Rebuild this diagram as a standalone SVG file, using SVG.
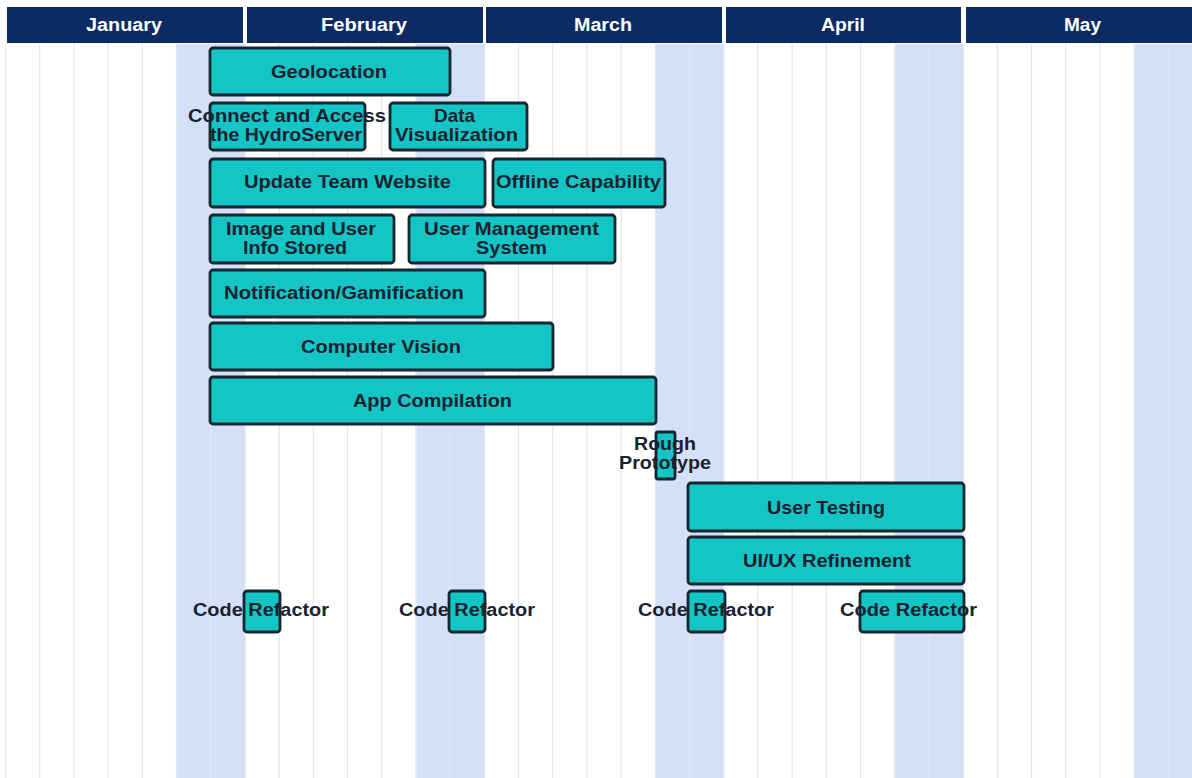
<svg xmlns="http://www.w3.org/2000/svg" width="1192" height="778" viewBox="0 0 1192 778">
  <style>
    .hdr { fill: #0c2b62; }
    .hdr-t { fill: #ffffff; font-family: "Liberation Sans", Arial, sans-serif; font-weight: bold; font-size: 17.5px; }
    .wkend { fill: #d3e0f8; }
    .grid { stroke: #e3e6ec; stroke-width: 1.2; }
    .bar { fill: #14c5c5; stroke: #16262e; stroke-width: 2.8; }
    .lbl { fill: #1a2230; font-family: "Liberation Sans", Arial, sans-serif; font-weight: bold; font-size: 18px; }
  </style>

  <rect x="0" y="0" width="1192" height="778" fill="#ffffff"/>

  <!-- shaded week-end columns -->
  <g id="weekends">
    <rect class="wkend" x="177" y="44" width="68.4" height="734"/>
    <rect class="wkend" x="416.4" y="44" width="68.4" height="734"/>
    <rect class="wkend" x="655.8" y="44" width="68.4" height="734"/>
    <rect class="wkend" x="895.2" y="44" width="68.4" height="734"/>
    <rect class="wkend" x="1134.6" y="44" width="68.4" height="734"/>
  </g>

  <!-- day grid -->
  <g id="grid">
    <path class="grid" d="M5.5 44V778M39.7 44V778M73.9 44V778M108.1 44V778M142.3 44V778M176.5 44V778M210.7 44V778M244.9 44V778M279.1 44V778M313.3 44V778M347.5 44V778M381.7 44V778M415.9 44V778M450.1 44V778M484.3 44V778M518.5 44V778M552.7 44V778M586.9 44V778M621.1 44V778M655.3 44V778M689.5 44V778M723.7 44V778M757.9 44V778M792.1 44V778M826.3 44V778M860.5 44V778M894.7 44V778M928.9 44V778M963.1 44V778M997.3 44V778M1031.5 44V778M1065.7 44V778M1099.9 44V778M1134.1 44V778M1168.3 44V778"/>
  </g>

  <!-- month header -->
  <g id="months">
    <rect class="hdr" x="7" y="7" width="236" height="36"/>
    <rect class="hdr" x="247" y="7" width="236" height="36"/>
    <rect class="hdr" x="486" y="7" width="236" height="36"/>
    <rect class="hdr" x="726" y="7" width="235" height="36"/>
    <rect class="hdr" x="966" y="7" width="226" height="36"/>
    <text class="hdr-t" x="86" y="31" textLength="76" lengthAdjust="spacingAndGlyphs">January</text>
    <text class="hdr-t" x="321" y="31" textLength="86" lengthAdjust="spacingAndGlyphs">February</text>
    <text class="hdr-t" x="574" y="31" textLength="58" lengthAdjust="spacingAndGlyphs">March</text>
    <text class="hdr-t" x="821" y="31" textLength="44" lengthAdjust="spacingAndGlyphs">April</text>
    <text class="hdr-t" x="1064" y="31" textLength="37" lengthAdjust="spacingAndGlyphs">May</text>
  </g>

  <!-- tasks -->
  <g id="geolocation">
    <rect class="bar" x="210" y="48" width="240" height="47" rx="3"/>
    <text class="lbl" x="271" y="77.5" textLength="116" lengthAdjust="spacingAndGlyphs">Geolocation</text>
  </g>
  <g id="hydroserver">
    <rect class="bar" x="210" y="103" width="155" height="47" rx="3"/>
    <text class="lbl" x="188" y="122" textLength="198" lengthAdjust="spacingAndGlyphs">Connect and Access</text>
    <text class="lbl" x="210" y="141" textLength="152" lengthAdjust="spacingAndGlyphs">the HydroServer</text>
  </g>
  <g id="data-visualization">
    <rect class="bar" x="390" y="103" width="137" height="47" rx="3"/>
    <text class="lbl" x="434" y="122" textLength="41" lengthAdjust="spacingAndGlyphs">Data</text>
    <text class="lbl" x="395" y="141" textLength="123" lengthAdjust="spacingAndGlyphs">Visualization</text>
  </g>
  <g id="team-website">
    <rect class="bar" x="210" y="159" width="275" height="48" rx="3"/>
    <text class="lbl" x="244" y="187.5" textLength="207" lengthAdjust="spacingAndGlyphs">Update Team Website</text>
  </g>
  <g id="offline">
    <rect class="bar" x="493" y="159" width="172" height="48" rx="3"/>
    <text class="lbl" x="496" y="187.5" textLength="165" lengthAdjust="spacingAndGlyphs">Offline Capability</text>
  </g>
  <g id="image-store">
    <rect class="bar" x="210" y="215" width="184" height="48" rx="3"/>
    <text class="lbl" x="226" y="235" textLength="150" lengthAdjust="spacingAndGlyphs">Image and User</text>
    <text class="lbl" x="243" y="253.5" textLength="104" lengthAdjust="spacingAndGlyphs">Info Stored</text>
  </g>
  <g id="user-management">
    <rect class="bar" x="409" y="215" width="206" height="48" rx="3"/>
    <text class="lbl" x="424" y="235" textLength="175" lengthAdjust="spacingAndGlyphs">User Management</text>
    <text class="lbl" x="476" y="253.5" textLength="71" lengthAdjust="spacingAndGlyphs">System</text>
  </g>
  <g id="notification">
    <rect class="bar" x="210" y="270" width="275" height="47" rx="3"/>
    <text class="lbl" x="224" y="298.5" textLength="240" lengthAdjust="spacingAndGlyphs">Notification/Gamification</text>
  </g>
  <g id="computer-vision">
    <rect class="bar" x="210" y="323" width="343" height="47" rx="3"/>
    <text class="lbl" x="301" y="352.5" textLength="160" lengthAdjust="spacingAndGlyphs">Computer Vision</text>
  </g>
  <g id="app-compilation">
    <rect class="bar" x="210" y="377" width="446" height="47" rx="3"/>
    <text class="lbl" x="353" y="406.5" textLength="159" lengthAdjust="spacingAndGlyphs">App Compilation</text>
  </g>
  <g id="rough-prototype">
    <rect class="bar" x="656" y="432" width="19" height="47" rx="2"/>
    <text class="lbl" x="634" y="449.5" textLength="62" lengthAdjust="spacingAndGlyphs">Rough</text>
    <text class="lbl" x="619" y="469" textLength="92" lengthAdjust="spacingAndGlyphs">Prototype</text>
  </g>
  <g id="user-testing">
    <rect class="bar" x="688" y="483" width="276" height="48" rx="3"/>
    <text class="lbl" x="767" y="513.5" textLength="118" lengthAdjust="spacingAndGlyphs">User Testing</text>
  </g>
  <g id="uiux-refinement">
    <rect class="bar" x="688" y="537" width="276" height="47" rx="3"/>
    <text class="lbl" x="743" y="566.5" textLength="168" lengthAdjust="spacingAndGlyphs">UI/UX Refinement</text>
  </g>
  <g id="refactor-1">
    <rect class="bar" x="244" y="591" width="36" height="41" rx="3"/>
    <text class="lbl" x="193" y="615.5" textLength="136" lengthAdjust="spacingAndGlyphs">Code Refactor</text>
  </g>
  <g id="refactor-2">
    <rect class="bar" x="449" y="591" width="36" height="41" rx="3"/>
    <text class="lbl" x="399" y="615.5" textLength="136" lengthAdjust="spacingAndGlyphs">Code Refactor</text>
  </g>
  <g id="refactor-3">
    <rect class="bar" x="688" y="591" width="37" height="41" rx="3"/>
    <text class="lbl" x="638" y="615.5" textLength="136" lengthAdjust="spacingAndGlyphs">Code Refactor</text>
  </g>
  <g id="refactor-4">
    <rect class="bar" x="860" y="591" width="104" height="41" rx="3"/>
    <text class="lbl" x="840" y="615.5" textLength="137" lengthAdjust="spacingAndGlyphs">Code Refactor</text>
  </g>
</svg>
